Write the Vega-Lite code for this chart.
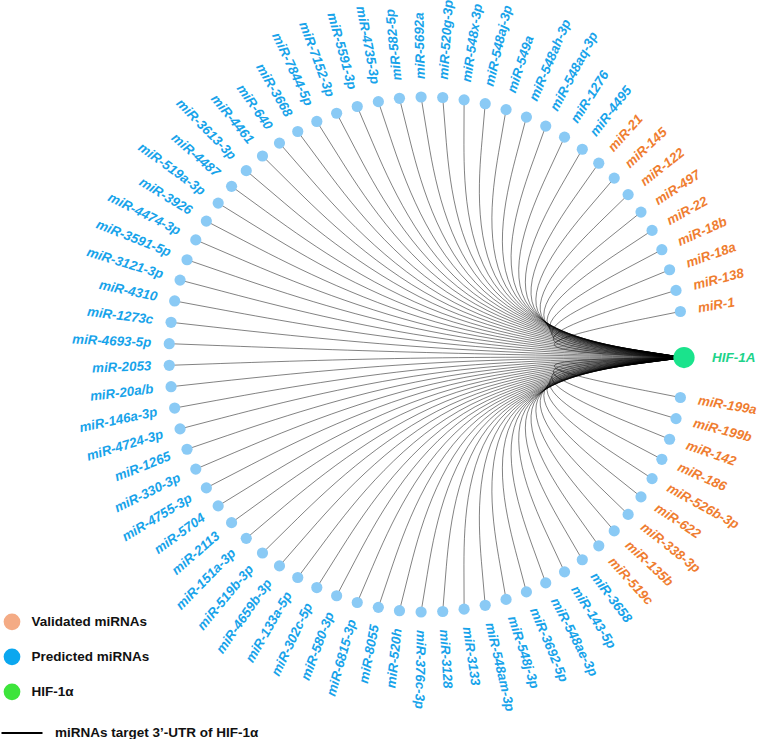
{
"$schema":"https://vega.github.io/schema/vega-lite/v6.json",
"width":762,"height":739,"autosize":"none","padding":0,
"config":{"view":{"stroke":null},"legend":{"padding":0,"labelFont":"Liberation Sans","labelFontWeight":"bold","labelFontSize":13.5,"labelColor":"#111111","labelLimit":400}},
"datasets":{
"nodes":[
{"m":"miR-1","g":"V","x":0.986,"y":0.167},
{"m":"miR-138","g":"V","x":0.969,"y":0.249},
{"m":"miR-18a","g":"V","x":0.944,"y":0.329},
{"m":"miR-18b","g":"V","x":0.914,"y":0.407},
{"m":"miR-22","g":"V","x":0.876,"y":0.482},
{"m":"miR-497","g":"V","x":0.833,"y":0.553},
{"m":"miR-122","g":"V","x":0.783,"y":0.621},
{"m":"miR-145","g":"V","x":0.729,"y":0.685},
{"m":"miR-21","g":"V","x":0.669,"y":0.743},
{"m":"miR-4495","g":"P","x":0.605,"y":0.797},
{"m":"miR-1276","g":"P","x":0.536,"y":0.844},
{"m":"miR-548aq-3p","g":"P","x":0.463,"y":0.887},
{"m":"miR-548ah-3p","g":"P","x":0.388,"y":0.922},
{"m":"miR-549a","g":"P","x":0.309,"y":0.951},
{"m":"miR-548aj-3p","g":"P","x":0.228,"y":0.974},
{"m":"miR-548x-3p","g":"P","x":0.146,"y":0.989},
{"m":"miR-520g-3p","g":"P","x":0.063,"y":0.998},
{"m":"miR-5692a","g":"P","x":-0.021,"y":1.0},
{"m":"miR-582-5p","g":"P","x":-0.105,"y":0.995},
{"m":"miR-4735-3p","g":"P","x":-0.187,"y":0.982},
{"m":"miR-5591-3p","g":"P","x":-0.269,"y":0.963},
{"m":"miR-7152-3p","g":"P","x":-0.349,"y":0.937},
{"m":"miR-7844-5p","g":"P","x":-0.426,"y":0.905},
{"m":"miR-3668","g":"P","x":-0.5,"y":0.866},
{"m":"miR-640","g":"P","x":-0.571,"y":0.821},
{"m":"miR-4461","g":"P","x":-0.637,"y":0.771},
{"m":"miR-3613-3p","g":"P","x":-0.7,"y":0.714},
{"m":"miR-4487","g":"P","x":-0.757,"y":0.653},
{"m":"miR-519a-3p","g":"P","x":-0.809,"y":0.588},
{"m":"miR-3926","g":"P","x":-0.855,"y":0.518},
{"m":"miR-4474-3p","g":"P","x":-0.896,"y":0.445},
{"m":"miR-3591-5p","g":"P","x":-0.93,"y":0.368},
{"m":"miR-3121-3p","g":"P","x":-0.957,"y":0.289},
{"m":"miR-4310","g":"P","x":-0.978,"y":0.208},
{"m":"miR-1273c","g":"P","x":-0.992,"y":0.125},
{"m":"miR-4693-5p","g":"P","x":-0.999,"y":0.042},
{"m":"miR-2053","g":"P","x":-0.999,"y":-0.042},
{"m":"miR-20a/b","g":"P","x":-0.992,"y":-0.125},
{"m":"miR-146a-3p","g":"P","x":-0.978,"y":-0.208},
{"m":"miR-4724-3p","g":"P","x":-0.957,"y":-0.289},
{"m":"miR-1265","g":"P","x":-0.93,"y":-0.368},
{"m":"miR-330-3p","g":"P","x":-0.896,"y":-0.445},
{"m":"miR-4755-3p","g":"P","x":-0.855,"y":-0.518},
{"m":"miR-5704","g":"P","x":-0.809,"y":-0.588},
{"m":"miR-2113","g":"P","x":-0.757,"y":-0.653},
{"m":"miR-151a-3p","g":"P","x":-0.7,"y":-0.714},
{"m":"miR-519b-3p","g":"P","x":-0.637,"y":-0.771},
{"m":"miR-4659b-3p","g":"P","x":-0.571,"y":-0.821},
{"m":"miR-133a-5p","g":"P","x":-0.5,"y":-0.866},
{"m":"miR-302c-5p","g":"P","x":-0.426,"y":-0.905},
{"m":"miR-580-3p","g":"P","x":-0.349,"y":-0.937},
{"m":"miR-6815-3p","g":"P","x":-0.269,"y":-0.963},
{"m":"miR-8055","g":"P","x":-0.187,"y":-0.982},
{"m":"miR-520h","g":"P","x":-0.105,"y":-0.995},
{"m":"miR-376c-3p","g":"P","x":-0.021,"y":-1.0},
{"m":"miR-3128","g":"P","x":0.063,"y":-0.998},
{"m":"miR-3133","g":"P","x":0.146,"y":-0.989},
{"m":"miR-548am-3p","g":"P","x":0.228,"y":-0.974},
{"m":"miR-548j-3p","g":"P","x":0.309,"y":-0.951},
{"m":"miR-3692-5p","g":"P","x":0.388,"y":-0.922},
{"m":"miR-548ae-3p","g":"P","x":0.463,"y":-0.887},
{"m":"miR-143-5p","g":"P","x":0.536,"y":-0.844},
{"m":"miR-3658","g":"P","x":0.605,"y":-0.797},
{"m":"miR-519c","g":"V","x":0.669,"y":-0.743},
{"m":"miR-135b","g":"V","x":0.729,"y":-0.685},
{"m":"miR-338-3p","g":"V","x":0.783,"y":-0.621},
{"m":"miR-622","g":"V","x":0.833,"y":-0.553},
{"m":"miR-526b-3p","g":"V","x":0.876,"y":-0.482},
{"m":"miR-186","g":"V","x":0.914,"y":-0.407},
{"m":"miR-142","g":"V","x":0.944,"y":-0.329},
{"m":"miR-199b","g":"V","x":0.969,"y":-0.249},
{"m":"miR-199a","g":"V","x":0.986,"y":-0.167}
],
"links":[
{"m":"miR-1","o":0,"x":0.986,"y":0.167},{"m":"miR-1","o":1,"x":0.248,"y":0.019},{"m":"miR-1","o":2,"x":1,"y":-0.012},
{"m":"miR-138","o":0,"x":0.969,"y":0.249},{"m":"miR-138","o":1,"x":0.246,"y":0.030},{"m":"miR-138","o":2,"x":1,"y":-0.012},
{"m":"miR-18a","o":0,"x":0.944,"y":0.329},{"m":"miR-18a","o":1,"x":0.243,"y":0.040},{"m":"miR-18a","o":2,"x":1,"y":-0.012},
{"m":"miR-18b","o":0,"x":0.914,"y":0.407},{"m":"miR-18b","o":1,"x":0.239,"y":0.049},{"m":"miR-18b","o":2,"x":1,"y":-0.012},
{"m":"miR-22","o":0,"x":0.876,"y":0.482},{"m":"miR-22","o":1,"x":0.235,"y":0.059},{"m":"miR-22","o":2,"x":1,"y":-0.012},
{"m":"miR-497","o":0,"x":0.833,"y":0.553},{"m":"miR-497","o":1,"x":0.229,"y":0.068},{"m":"miR-497","o":2,"x":1,"y":-0.012},
{"m":"miR-122","o":0,"x":0.783,"y":0.621},{"m":"miR-122","o":1,"x":0.223,"y":0.076},{"m":"miR-122","o":2,"x":1,"y":-0.012},
{"m":"miR-145","o":0,"x":0.729,"y":0.685},{"m":"miR-145","o":1,"x":0.216,"y":0.084},{"m":"miR-145","o":2,"x":1,"y":-0.012},
{"m":"miR-21","o":0,"x":0.669,"y":0.743},{"m":"miR-21","o":1,"x":0.209,"y":0.091},{"m":"miR-21","o":2,"x":1,"y":-0.012},
{"m":"miR-4495","o":0,"x":0.605,"y":0.797},{"m":"miR-4495","o":1,"x":0.201,"y":0.098},{"m":"miR-4495","o":2,"x":1,"y":-0.012},
{"m":"miR-1276","o":0,"x":0.536,"y":0.844},{"m":"miR-1276","o":1,"x":0.192,"y":0.104},{"m":"miR-1276","o":2,"x":1,"y":-0.012},
{"m":"miR-548aq-3p","o":0,"x":0.463,"y":0.887},{"m":"miR-548aq-3p","o":1,"x":0.183,"y":0.109},{"m":"miR-548aq-3p","o":2,"x":1,"y":-0.012},
{"m":"miR-548ah-3p","o":0,"x":0.388,"y":0.922},{"m":"miR-548ah-3p","o":1,"x":0.174,"y":0.114},{"m":"miR-548ah-3p","o":2,"x":1,"y":-0.012},
{"m":"miR-549a","o":0,"x":0.309,"y":0.951},{"m":"miR-549a","o":1,"x":0.164,"y":0.117},{"m":"miR-549a","o":2,"x":1,"y":-0.012},
{"m":"miR-548aj-3p","o":0,"x":0.228,"y":0.974},{"m":"miR-548aj-3p","o":1,"x":0.154,"y":0.120},{"m":"miR-548aj-3p","o":2,"x":1,"y":-0.012},
{"m":"miR-548x-3p","o":0,"x":0.146,"y":0.989},{"m":"miR-548x-3p","o":1,"x":0.143,"y":0.122},{"m":"miR-548x-3p","o":2,"x":1,"y":-0.012},
{"m":"miR-520g-3p","o":0,"x":0.063,"y":0.998},{"m":"miR-520g-3p","o":1,"x":0.133,"y":0.123},{"m":"miR-520g-3p","o":2,"x":1,"y":-0.012},
{"m":"miR-5692a","o":0,"x":-0.021,"y":1.0},{"m":"miR-5692a","o":1,"x":0.122,"y":0.124},{"m":"miR-5692a","o":2,"x":1,"y":-0.012},
{"m":"miR-582-5p","o":0,"x":-0.105,"y":0.995},{"m":"miR-582-5p","o":1,"x":0.112,"y":0.123},{"m":"miR-582-5p","o":2,"x":1,"y":-0.012},
{"m":"miR-4735-3p","o":0,"x":-0.187,"y":0.982},{"m":"miR-4735-3p","o":1,"x":0.102,"y":0.121},{"m":"miR-4735-3p","o":2,"x":1,"y":-0.012},
{"m":"miR-5591-3p","o":0,"x":-0.269,"y":0.963},{"m":"miR-5591-3p","o":1,"x":0.091,"y":0.119},{"m":"miR-5591-3p","o":2,"x":1,"y":-0.012},
{"m":"miR-7152-3p","o":0,"x":-0.349,"y":0.937},{"m":"miR-7152-3p","o":1,"x":0.081,"y":0.116},{"m":"miR-7152-3p","o":2,"x":1,"y":-0.012},
{"m":"miR-7844-5p","o":0,"x":-0.426,"y":0.905},{"m":"miR-7844-5p","o":1,"x":0.072,"y":0.112},{"m":"miR-7844-5p","o":2,"x":1,"y":-0.012},
{"m":"miR-3668","o":0,"x":-0.5,"y":0.866},{"m":"miR-3668","o":1,"x":0.063,"y":0.107},{"m":"miR-3668","o":2,"x":1,"y":-0.012},
{"m":"miR-640","o":0,"x":-0.571,"y":0.821},{"m":"miR-640","o":1,"x":0.054,"y":0.101},{"m":"miR-640","o":2,"x":1,"y":-0.012},
{"m":"miR-4461","o":0,"x":-0.637,"y":0.771},{"m":"miR-4461","o":1,"x":0.045,"y":0.095},{"m":"miR-4461","o":2,"x":1,"y":-0.012},
{"m":"miR-3613-3p","o":0,"x":-0.7,"y":0.714},{"m":"miR-3613-3p","o":1,"x":0.038,"y":0.088},{"m":"miR-3613-3p","o":2,"x":1,"y":-0.012},
{"m":"miR-4487","o":0,"x":-0.757,"y":0.653},{"m":"miR-4487","o":1,"x":0.030,"y":0.080},{"m":"miR-4487","o":2,"x":1,"y":-0.012},
{"m":"miR-519a-3p","o":0,"x":-0.809,"y":0.588},{"m":"miR-519a-3p","o":1,"x":0.024,"y":0.072},{"m":"miR-519a-3p","o":2,"x":1,"y":-0.012},
{"m":"miR-3926","o":0,"x":-0.855,"y":0.518},{"m":"miR-3926","o":1,"x":0.018,"y":0.063},{"m":"miR-3926","o":2,"x":1,"y":-0.012},
{"m":"miR-4474-3p","o":0,"x":-0.896,"y":0.445},{"m":"miR-4474-3p","o":1,"x":0.013,"y":0.054},{"m":"miR-4474-3p","o":2,"x":1,"y":-0.012},
{"m":"miR-3591-5p","o":0,"x":-0.93,"y":0.368},{"m":"miR-3591-5p","o":1,"x":0.009,"y":0.045},{"m":"miR-3591-5p","o":2,"x":1,"y":-0.012},
{"m":"miR-3121-3p","o":0,"x":-0.957,"y":0.289},{"m":"miR-3121-3p","o":1,"x":0.005,"y":0.035},{"m":"miR-3121-3p","o":2,"x":1,"y":-0.012},
{"m":"miR-4310","o":0,"x":-0.978,"y":0.208},{"m":"miR-4310","o":1,"x":0.003,"y":0.025},{"m":"miR-4310","o":2,"x":1,"y":-0.012},
{"m":"miR-1273c","o":0,"x":-0.992,"y":0.125},{"m":"miR-1273c","o":1,"x":0.001,"y":0.014},{"m":"miR-1273c","o":2,"x":1,"y":-0.012},
{"m":"miR-4693-5p","o":0,"x":-0.999,"y":0.042},{"m":"miR-4693-5p","o":1,"x":0,"y":0.004},{"m":"miR-4693-5p","o":2,"x":1,"y":-0.012},
{"m":"miR-2053","o":0,"x":-0.999,"y":-0.042},{"m":"miR-2053","o":1,"x":0,"y":-0.007},{"m":"miR-2053","o":2,"x":1,"y":-0.012},
{"m":"miR-20a/b","o":0,"x":-0.992,"y":-0.125},{"m":"miR-20a/b","o":1,"x":0.001,"y":-0.017},{"m":"miR-20a/b","o":2,"x":1,"y":-0.012},
{"m":"miR-146a-3p","o":0,"x":-0.978,"y":-0.208},{"m":"miR-146a-3p","o":1,"x":0.003,"y":-0.028},{"m":"miR-146a-3p","o":2,"x":1,"y":-0.012},
{"m":"miR-4724-3p","o":0,"x":-0.957,"y":-0.289},{"m":"miR-4724-3p","o":1,"x":0.005,"y":-0.038},{"m":"miR-4724-3p","o":2,"x":1,"y":-0.012},
{"m":"miR-1265","o":0,"x":-0.93,"y":-0.368},{"m":"miR-1265","o":1,"x":0.009,"y":-0.048},{"m":"miR-1265","o":2,"x":1,"y":-0.012},
{"m":"miR-330-3p","o":0,"x":-0.896,"y":-0.445},{"m":"miR-330-3p","o":1,"x":0.013,"y":-0.057},{"m":"miR-330-3p","o":2,"x":1,"y":-0.012},
{"m":"miR-4755-3p","o":0,"x":-0.855,"y":-0.518},{"m":"miR-4755-3p","o":1,"x":0.018,"y":-0.066},{"m":"miR-4755-3p","o":2,"x":1,"y":-0.012},
{"m":"miR-5704","o":0,"x":-0.809,"y":-0.588},{"m":"miR-5704","o":1,"x":0.024,"y":-0.075},{"m":"miR-5704","o":2,"x":1,"y":-0.012},
{"m":"miR-2113","o":0,"x":-0.757,"y":-0.653},{"m":"miR-2113","o":1,"x":0.030,"y":-0.083},{"m":"miR-2113","o":2,"x":1,"y":-0.012},
{"m":"miR-151a-3p","o":0,"x":-0.7,"y":-0.714},{"m":"miR-151a-3p","o":1,"x":0.038,"y":-0.091},{"m":"miR-151a-3p","o":2,"x":1,"y":-0.012},
{"m":"miR-519b-3p","o":0,"x":-0.637,"y":-0.771},{"m":"miR-519b-3p","o":1,"x":0.045,"y":-0.098},{"m":"miR-519b-3p","o":2,"x":1,"y":-0.012},
{"m":"miR-4659b-3p","o":0,"x":-0.571,"y":-0.821},{"m":"miR-4659b-3p","o":1,"x":0.054,"y":-0.104},{"m":"miR-4659b-3p","o":2,"x":1,"y":-0.012},
{"m":"miR-133a-5p","o":0,"x":-0.5,"y":-0.866},{"m":"miR-133a-5p","o":1,"x":0.063,"y":-0.110},{"m":"miR-133a-5p","o":2,"x":1,"y":-0.012},
{"m":"miR-302c-5p","o":0,"x":-0.426,"y":-0.905},{"m":"miR-302c-5p","o":1,"x":0.072,"y":-0.115},{"m":"miR-302c-5p","o":2,"x":1,"y":-0.012},
{"m":"miR-580-3p","o":0,"x":-0.349,"y":-0.937},{"m":"miR-580-3p","o":1,"x":0.081,"y":-0.119},{"m":"miR-580-3p","o":2,"x":1,"y":-0.012},
{"m":"miR-6815-3p","o":0,"x":-0.269,"y":-0.963},{"m":"miR-6815-3p","o":1,"x":0.091,"y":-0.122},{"m":"miR-6815-3p","o":2,"x":1,"y":-0.012},
{"m":"miR-8055","o":0,"x":-0.187,"y":-0.982},{"m":"miR-8055","o":1,"x":0.102,"y":-0.124},{"m":"miR-8055","o":2,"x":1,"y":-0.012},
{"m":"miR-520h","o":0,"x":-0.105,"y":-0.995},{"m":"miR-520h","o":1,"x":0.112,"y":-0.126},{"m":"miR-520h","o":2,"x":1,"y":-0.012},
{"m":"miR-376c-3p","o":0,"x":-0.021,"y":-1.0},{"m":"miR-376c-3p","o":1,"x":0.122,"y":-0.127},{"m":"miR-376c-3p","o":2,"x":1,"y":-0.012},
{"m":"miR-3128","o":0,"x":0.063,"y":-0.998},{"m":"miR-3128","o":1,"x":0.133,"y":-0.126},{"m":"miR-3128","o":2,"x":1,"y":-0.012},
{"m":"miR-3133","o":0,"x":0.146,"y":-0.989},{"m":"miR-3133","o":1,"x":0.143,"y":-0.125},{"m":"miR-3133","o":2,"x":1,"y":-0.012},
{"m":"miR-548am-3p","o":0,"x":0.228,"y":-0.974},{"m":"miR-548am-3p","o":1,"x":0.154,"y":-0.123},{"m":"miR-548am-3p","o":2,"x":1,"y":-0.012},
{"m":"miR-548j-3p","o":0,"x":0.309,"y":-0.951},{"m":"miR-548j-3p","o":1,"x":0.164,"y":-0.120},{"m":"miR-548j-3p","o":2,"x":1,"y":-0.012},
{"m":"miR-3692-5p","o":0,"x":0.388,"y":-0.922},{"m":"miR-3692-5p","o":1,"x":0.174,"y":-0.117},{"m":"miR-3692-5p","o":2,"x":1,"y":-0.012},
{"m":"miR-548ae-3p","o":0,"x":0.463,"y":-0.887},{"m":"miR-548ae-3p","o":1,"x":0.183,"y":-0.112},{"m":"miR-548ae-3p","o":2,"x":1,"y":-0.012},
{"m":"miR-143-5p","o":0,"x":0.536,"y":-0.844},{"m":"miR-143-5p","o":1,"x":0.192,"y":-0.107},{"m":"miR-143-5p","o":2,"x":1,"y":-0.012},
{"m":"miR-3658","o":0,"x":0.605,"y":-0.797},{"m":"miR-3658","o":1,"x":0.201,"y":-0.101},{"m":"miR-3658","o":2,"x":1,"y":-0.012},
{"m":"miR-519c","o":0,"x":0.669,"y":-0.743},{"m":"miR-519c","o":1,"x":0.209,"y":-0.094},{"m":"miR-519c","o":2,"x":1,"y":-0.012},
{"m":"miR-135b","o":0,"x":0.729,"y":-0.685},{"m":"miR-135b","o":1,"x":0.216,"y":-0.087},{"m":"miR-135b","o":2,"x":1,"y":-0.012},
{"m":"miR-338-3p","o":0,"x":0.783,"y":-0.621},{"m":"miR-338-3p","o":1,"x":0.223,"y":-0.079},{"m":"miR-338-3p","o":2,"x":1,"y":-0.012},
{"m":"miR-622","o":0,"x":0.833,"y":-0.553},{"m":"miR-622","o":1,"x":0.229,"y":-0.071},{"m":"miR-622","o":2,"x":1,"y":-0.012},
{"m":"miR-526b-3p","o":0,"x":0.876,"y":-0.482},{"m":"miR-526b-3p","o":1,"x":0.235,"y":-0.062},{"m":"miR-526b-3p","o":2,"x":1,"y":-0.012},
{"m":"miR-186","o":0,"x":0.914,"y":-0.407},{"m":"miR-186","o":1,"x":0.239,"y":-0.052},{"m":"miR-186","o":2,"x":1,"y":-0.012},
{"m":"miR-142","o":0,"x":0.944,"y":-0.329},{"m":"miR-142","o":1,"x":0.243,"y":-0.043},{"m":"miR-142","o":2,"x":1,"y":-0.012},
{"m":"miR-199b","o":0,"x":0.969,"y":-0.249},{"m":"miR-199b","o":1,"x":0.246,"y":-0.033},{"m":"miR-199b","o":2,"x":1,"y":-0.012},
{"m":"miR-199a","o":0,"x":0.986,"y":-0.167},{"m":"miR-199a","o":1,"x":0.248,"y":-0.022},{"m":"miR-199a","o":2,"x":1,"y":-0.012}
],
"hub":[{"m":"HIF-1A","x":1,"y":-0.012}],
"legendItems":[{"c":"Validated miRNAs"},{"c":"Predicted miRNAs"},{"c":"HIF-1α"}]
},
"encoding":{
"x":{"field":"x","type":"quantitative","scale":{"domain":[-1.6563,1.3029],"nice":false,"zero":false},"axis":null},
"y":{"field":"y","type":"quantitative","scale":{"domain":[-1.4932,1.3767],"nice":false,"zero":false},"axis":null}
},
"layer":[
{"data":{"name":"links"},
 "mark":{"type":"line","interpolate":"basis","strokeWidth":0.9,"strokeOpacity":0.55},
 "encoding":{"detail":{"field":"m"},"order":{"field":"o","type":"quantitative"},
  "stroke":{"datum":"miRNAs target 3’-UTR of HIF-1α","scale":{"range":["#000000"]},
   "legend":{"orient":"none","legendX":0,"legendY":711,"title":null,"symbolType":"stroke","symbolSize":1681,"symbolStrokeColor":"#000000","symbolStrokeWidth":2.2,"symbolOpacity":1,"labelOffset":11}}}},
{"data":{"name":"nodes"},
 "mark":{"type":"point","filled":true,"size":125,"color":"#8ACAF5","opacity":1}},
{"data":{"name":"hub"},
 "mark":{"type":"point","filled":true,"size":450,"color":"#1AE38C","opacity":1}},
{"data":{"name":"nodes"},
 "transform":[{"calculate":"(atan2(datum.y, datum.x)*180/PI + 360) % 360","as":"t"},{"filter":"datum.t <= 98 || datum.t >= 266"},{"calculate":"-datum.t","as":"a"}],
 "mark":{"type":"text","align":"left","baseline":"middle","dx":18,"font":"Liberation Sans","fontSize":13.3,"fontWeight":"bold","fontStyle":"italic"},
 "encoding":{"text":{"field":"m"},"angle":{"field":"a","type":"quantitative","scale":null},
  "color":{"field":"g","type":"nominal","scale":{"domain":["V","P"],"range":["#EF7D30","#17A3EA"]},"legend":null}}},
{"data":{"name":"nodes"},
 "transform":[{"calculate":"(atan2(datum.y, datum.x)*180/PI + 360) % 360","as":"t"},{"filter":"datum.t > 98 && datum.t < 266"},{"calculate":"180-datum.t","as":"a"}],
 "mark":{"type":"text","align":"right","baseline":"middle","dx":-18,"font":"Liberation Sans","fontSize":13.3,"fontWeight":"bold","fontStyle":"italic"},
 "encoding":{"text":{"field":"m"},"angle":{"field":"a","type":"quantitative","scale":null},
  "color":{"field":"g","type":"nominal","scale":{"domain":["V","P"],"range":["#EF7D30","#17A3EA"]},"legend":null}}},
{"data":{"name":"hub"},
 "mark":{"type":"text","align":"left","baseline":"middle","dx":28,"font":"Liberation Sans","fontSize":13.5,"fontWeight":"bold","fontStyle":"italic","color":"#1ED38A"},
 "encoding":{"text":{"field":"m"}}},
{"data":{"name":"legendItems"},
 "mark":{"type":"point","filled":true,"size":0,"opacity":0},
 "encoding":{"x":{"datum":0},"y":{"datum":0},
  "fill":{"field":"c","type":"nominal","scale":{"domain":["Validated miRNAs","Predicted miRNAs","HIF-1α"],"range":["#F4AB85","#0BA7EF","#3DE43B"]},
   "legend":{"orient":"none","legendX":3.5,"legendY":613.3,"title":null,"symbolType":"circle","symbolSize":280,"symbolStrokeWidth":0,"symbolOpacity":1,"labelOffset":11,"rowPadding":18}}}}
]
}
